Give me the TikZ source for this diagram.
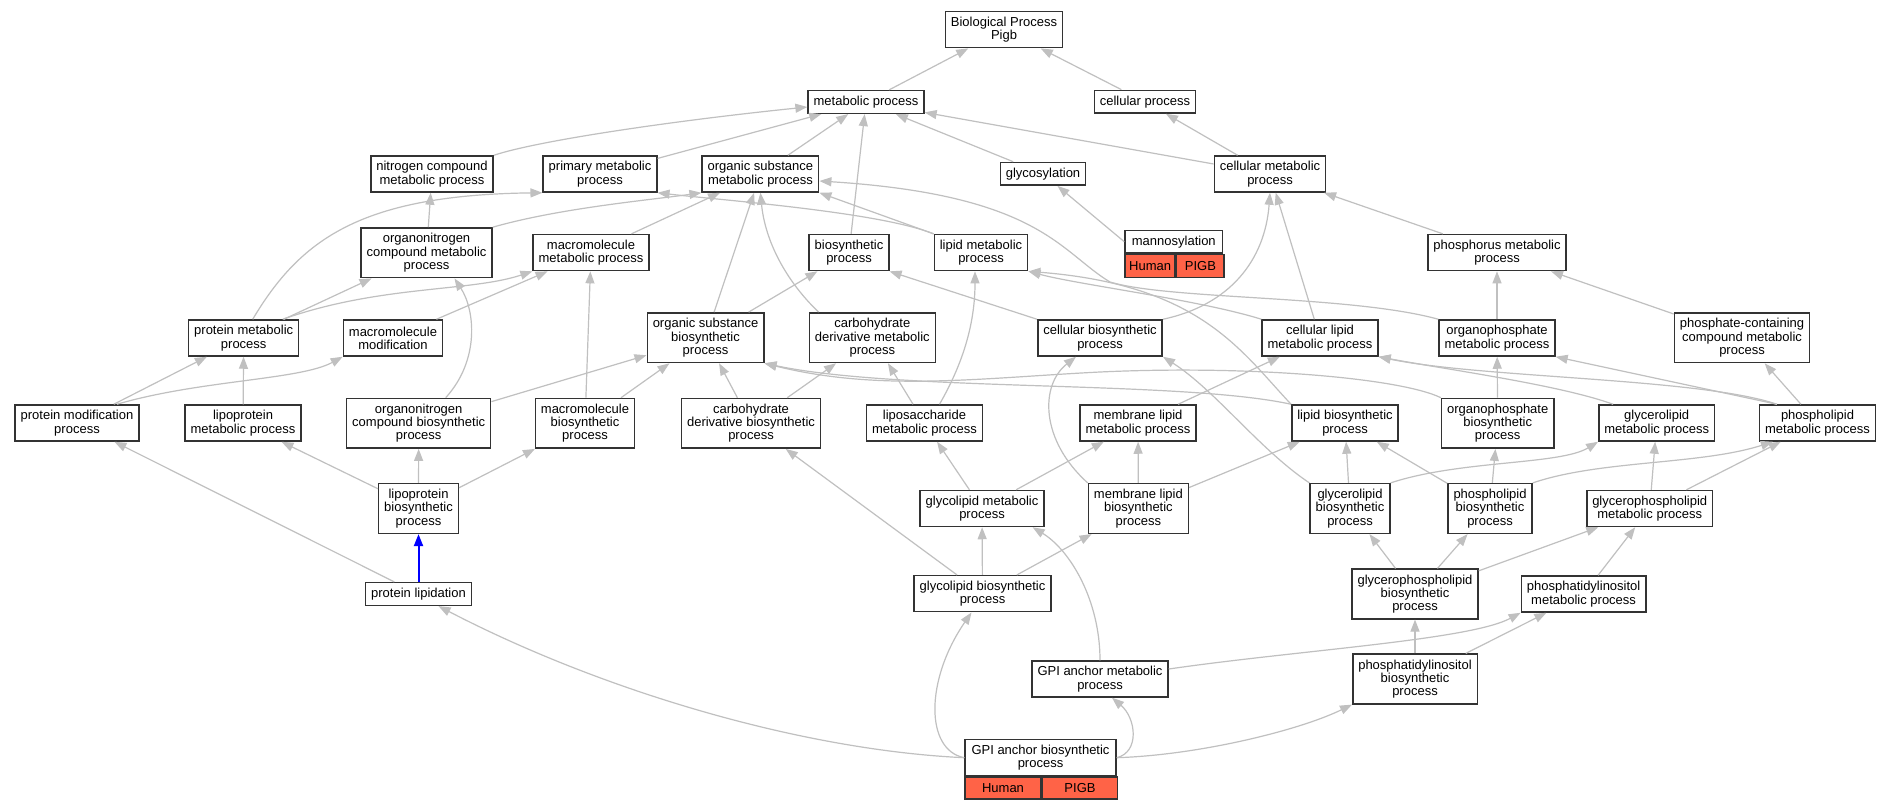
\documentclass[tikz,border=0pt]{standalone}
\usepackage{fontspec}
\setmainfont{Liberation Sans}
\usepackage{tikz}
\usetikzlibrary{arrows.meta}

\definecolor{edgegray}{HTML}{C0C0C0}
\definecolor{boxline}{HTML}{333333}
\definecolor{hitred}{HTML}{FF6347}

\begin{document}
\begin{tikzpicture}[x=1pt, y=-1pt,
        term_style/.style={rectangle,draw=boxline,fill=white,line width=1.5pt,inner xsep=5.5pt,inner ysep=2pt,align=center,minimum height=22.7pt,font=\fontsize{13pt}{13.3pt}\selectfont},
        term2_style/.style={term_style,minimum height=36pt},
        term3_style/.style={term_style,minimum height=49.7pt},
        gene_style/.style={rectangle,draw=boxline,fill=hitred,line width=1.5pt,inner sep=0pt,anchor=north west,minimum height=21.6pt,font=\fontsize{13pt}{13.3pt}\selectfont},
        edge_style/.style={draw=edgegray, line width=1.2pt, -{Triangle[length=12pt,width=9pt]}},
        selected_edge_style/.style={draw=blue, line width=2pt, -{Triangle[length=12pt,width=9pt]}}]

        \path [use as bounding box, fill=white] (0,0) rectangle (1892,808);

        % rank 0 - 2
        \node [term2_style](n1) at (1004,29.7) {Biological Process\\Pigb};
        \node [term_style](n2) at (866,102) {metabolic process};
        \node [term_style](n3) at (1145,101.7) {cellular process};
        \node [term2_style](n4) at (432,174) {nitrogen compound\\metabolic process};
        \node [term2_style](n5) at (600,174) {primary metabolic\\process};
        \node [term2_style](n6) at (760.4,174) {organic substance\\metabolic process};
        \node [term_style](n7) at (1043,173.8) {glycosylation};
        \node [term2_style](n8) at (1270,174) {cellular metabolic\\process};

        % rank 3
        \node [term3_style](n9) at (426.5,252.8) {organonitrogen\\compound metabolic\\process};
        \node [term2_style](n10) at (591,252.6) {macromolecule\\metabolic process};
        \node [term2_style](n11) at (849,252.6) {biosynthetic\\process};
        \node [term2_style](n12) at (981,252.6) {lipid metabolic\\process};
        \node [term_style, minimum width=97.6pt](n13) at (1173.8,241.7) {mannosylation};
        \node [gene_style, minimum width=50.2pt, minimum height=22.7pt](n13a) at (n13.south west) {Human};
        \node [gene_style, minimum width=47.4pt, minimum height=22.7pt](n13b) at (n13a.north east) {PIGB};
        \node [term2_style](n14) at (1497,252.6) {phosphorus metabolic\\process};

        % rank 4
        \node [term2_style](n15) at (243.7,338) {protein metabolic\\process};
        \node [term2_style](n16) at (393,338) {macromolecule\\modification};
        \node [term3_style](n17) at (705.5,337.7) {organic substance\\biosynthetic\\process};
        \node [term3_style](n18) at (872.3,337.7) {carbohydrate\\derivative metabolic\\process};
        \node [term2_style](n19) at (1100,338) {cellular biosynthetic\\process};
        \node [term2_style](n20) at (1320,338) {cellular lipid\\metabolic process};
        \node [term2_style](n21) at (1497,338) {organophosphate\\metabolic process};
        \node [term3_style](n22) at (1742,337.7) {phosphate-containing\\compound metabolic\\process};

        % rank 5
        \node [term2_style](n23) at (77,423) {protein modification\\process};
        \node [term2_style](n24) at (243,423) {lipoprotein\\metabolic process};
        \node [term3_style](n25) at (418.7,423.3) {organonitrogen\\compound biosynthetic\\process};
        \node [term3_style](n26) at (585,423.3) {macromolecule\\biosynthetic\\process};
        \node [term3_style](n27) at (751,423.3) {carbohydrate\\derivative biosynthetic\\process};
        \node [term2_style](n28) at (924.5,423) {liposaccharide\\metabolic process};
        \node [term2_style](n29) at (1138,423) {membrane lipid\\metabolic process};
        \node [term2_style](n30) at (1345,423) {lipid biosynthetic\\process};
        \node [term3_style](n31) at (1497.7,423.3) {organophosphate\\biosynthetic\\process};
        \node [term2_style](n32) at (1656.7,423) {glycerolipid\\metabolic process};
        \node [term2_style](n33) at (1817.5,423) {phospholipid\\metabolic process};

        % rank 6
        \node [term3_style](n34) at (418.5,508.5) {lipoprotein\\biosynthetic\\process};
        \node [term2_style](n35) at (982,508.5) {glycolipid metabolic\\process};
        \node [term3_style](n36) at (1138.4,508.5) {membrane lipid\\biosynthetic\\process};
        \node [term3_style](n37) at (1350,508.5) {glycerolipid\\biosynthetic\\process};
        \node [term3_style](n38) at (1490,508.5) {phospholipid\\biosynthetic\\process};
        \node [term2_style](n39) at (1649.7,508.5) {glycerophospholipid\\metabolic process};

        % rank 7 - 9
        \node [term_style](n40) at (418.5,594) {protein lipidation};
        \node [term2_style](n41) at (982.5,593.7) {glycolipid biosynthetic\\process};
        \node [term3_style](n42) at (1415,594) {glycerophospholipid\\biosynthetic\\process};
        \node [term2_style](n43) at (1583.6,594) {phosphatidylinositol\\metabolic process};
        \node [term2_style](n44) at (1100,679) {GPI anchor metabolic\\process};
        \node [term3_style](n45) at (1415,679) {phosphatidylinositol\\biosynthetic\\process};
        \node [term2_style, minimum width=151pt](n46) at (1040.5,757.7) {GPI anchor biosynthetic\\process};
        \node [gene_style, minimum width=76pt](n46a) at (n46.south west) {Human};
        \node [gene_style, minimum width=75pt](n46b) at (n46a.north east) {PIGB};

        % is_a edges, child to parent
        \draw [edge_style] (n2) -- (n1);
        \draw [edge_style] (n3) -- (n1);
        \draw [edge_style] (n4.north east) .. controls (540,140) and (680,120) .. ([yshift=-5pt]n2.west);
        \draw [edge_style] (n5) -- (n2);
        \draw [edge_style] (n6) -- (n2);
        \draw [edge_style] (n11) -- (n2);
        \draw [edge_style] (n7) -- (n2);
        \draw [edge_style] (n8) -- (n2);
        \draw [edge_style] (n8) -- (n3);
        \draw [edge_style] (n13.west) -- (n7);
        \draw [edge_style] (n14) -- (n8);
        \draw [edge_style] (n20) -- (n8);
        \draw [edge_style] (n19.north east) .. controls (1230,305) and (1265,260) .. (n8.south);
        \draw [edge_style] (n9) -- (n4);
        \draw [edge_style] (n9.north east) .. controls (560,208) and (650,200) .. (n6.south west);
        \draw [edge_style] (n10) -- (n6);
        \draw [edge_style] (n12.north west) .. controls (880,212) and (720,200) .. (n5.south east);
        \draw [edge_style] (n12.north west) -- (n6.south east);
        \draw [edge_style] ([xshift=9pt]n15.north) .. controls (300,240) and (360,195) .. (n5.south west);
        \draw [edge_style] (n15) -- (n9);
        \draw [edge_style] ([xshift=39pt]n15.north) .. controls (380,285) and (470,292) .. (n10.south west);
        \draw [edge_style] (n16) -- (n10);
        \draw [edge_style] (n17) -- (n6);
        \draw [edge_style] (n17) -- (n11);
        \draw [edge_style] ([xshift=10pt]n18.north west) .. controls (785,280) and (765,240) .. (n6.south);
        \draw [edge_style] (n19.north west) -- (n11.south east);
        \draw [edge_style] (n20.north west) .. controls (1200,300) and (1080,285) .. (n12.south east);
        \draw [edge_style] (n21.north west) .. controls (1350,295) and (1170,300) .. (1110,282) .. controls (1060,252) and (1040,195) .. ([yshift=-7pt]n6.east);
        \draw [edge_style] (n21) -- (n14);
        \draw [edge_style] (n22) -- (n14);
        \draw [edge_style] (n23) -- (n15);
        \draw [edge_style] ([xshift=40pt]n23.north) .. controls (200,380) and (300,380) .. (n16.south west);
        \draw [edge_style] (n24) -- (n15);
        \draw [edge_style] ([xshift=27pt]n25.north) .. controls (480,360) and (475,310) .. ([xshift=28pt]n9.south);
        \draw [edge_style] (n25) -- (n17);
        \draw [edge_style] (n26) -- (n10);
        \draw [edge_style] (n26) -- (n17);
        \draw [edge_style] (n27) -- (n17);
        \draw [edge_style] (n27) -- (n18);
        \draw [edge_style] (n28) -- (n18);
        \draw [edge_style] ([xshift=15pt]n28.north) .. controls (965,360) and (975,320) .. ([xshift=-6pt]n12.south);
        \draw [edge_style] (n29) -- (n20);
        \draw [edge_style] (n30.north west) .. controls (1240,350) and (1200,285) .. (n12.south east);
        \draw [edge_style] (n30.north west) .. controls (1180,380) and (900,392) .. (n17.south east);
        \draw [edge_style] (n31.north west) .. controls (1400,378) and (1250,365) .. (1100,372) .. controls (980,378) and (880,392) .. (n17.south east);
        \draw [edge_style] (n31) -- (n21);
        \draw [edge_style] ([xshift=15pt]n32.north west) .. controls (1560,385) and (1450,370) .. (n20.south east);
        \draw [edge_style] ([xshift=18pt]n33.north west) .. controls (1700,378) and (1480,378) .. (n20.south east);
        \draw [edge_style] ([xshift=18pt]n33.north west) -- (n21.south east);
        \draw [edge_style] (n33) -- (n22);
        \draw [selected_edge_style] (n40) -- (n34);
        \draw [edge_style] (n34) -- (n24);
        \draw [edge_style] (n34) -- (n25);
        \draw [edge_style] (n34) -- (n26);
        \draw [edge_style] (n35) -- (n28);
        \draw [edge_style] (n35) -- (n29);
        \draw [edge_style] (n36) -- (n29);
        \draw [edge_style] (n36) -- (n30);
        \draw [edge_style] (n36.north west) .. controls (1040,440) and (1040,385) .. ([xshift=-24pt]n19.south);
        \draw [edge_style] (n37) -- (n30);
        \draw [edge_style] (n37.north west) .. controls (1260,450) and (1215,390) .. (n19.south east);
        \draw [edge_style] (n37.north east) .. controls (1460,460) and (1560,465) .. (n32.south west);
        \draw [edge_style] (n38) -- (n30);
        \draw [edge_style] (n38) -- (n31);
        \draw [edge_style] (n38.north east) .. controls (1600,460) and (1700,465) .. ([xshift=14pt]n33.south west);
        \draw [edge_style] (n39) -- (n32);
        \draw [edge_style] (n39) -- (n33);
        \draw [edge_style] (n40) -- (n23);
        \draw [edge_style] (n41) -- (n27);
        \draw [edge_style] (n41) -- (n35);
        \draw [edge_style] (n41) -- (n36);
        \draw [edge_style] (n42) -- (n37);
        \draw [edge_style] (n42) -- (n38);
        \draw [edge_style] (n42) -- (n39);
        \draw [edge_style] (n43) -- (n39);
        \draw [edge_style] (n44.north) .. controls (1100,600) and (1070,550) .. ([xshift=-12pt]n35.south east);
        \draw [edge_style] ([yshift=10pt]n44.east) .. controls (1300,650) and (1470,640) .. (n43.south west);
        \draw [edge_style] (n45) -- (n42);
        \draw [edge_style] (n45) -- (n43);
        \draw [edge_style] (n46.east) .. controls (1200,755) and (1300,730) .. (n45.south west);
        \draw [edge_style] (n46.east) .. controls (1140,752) and (1136,718) .. ([xshift=12pt]n44.south);
        \draw [edge_style] (n46.west) .. controls (925,750) and (925,680) .. ([xshift=-11pt]n41.south);
        \draw [edge_style] (n46.west) .. controls (800,750) and (600,690) .. ([xshift=20pt]n40.south);

        \end{tikzpicture}
\end{document}
